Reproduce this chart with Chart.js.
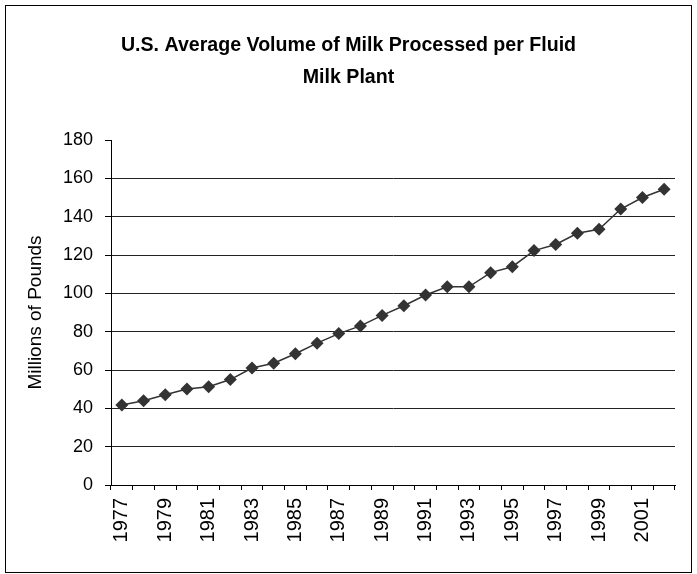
<!DOCTYPE html>
<html>
<head>
<meta charset="utf-8">
<script src="https://cdn.jsdelivr.net/npm/chart.js@4/dist/chart.umd.min.js"></script>
<style>
  html, body { margin: 0; padding: 0; background: #fff; }
  #wrap { width: 697px; height: 574px; position: relative; }
</style>
</head>
<body>
<div id="wrap"><canvas id="c" width="697" height="574"></canvas></div>
<script>
const years = [1977,1978,1979,1980,1981,1982,1983,1984,1985,1986,1987,1988,1989,1990,1991,1992,1993,1994,1995,1996,1997,1998,1999,2000,2001,2002];
const volumes = [41.7,44.0,47.1,50.1,51.3,55.0,61.0,63.5,68.5,74.0,79.0,83.0,88.5,93.5,99.1,103.4,103.4,110.8,113.9,122.3,125.5,131.3,133.4,144.0,150.0,154.3];
const yTicks = [0,20,40,60,80,100,120,140,160,180];
const titleLines = ['U.S. Average Volume of Milk Processed per Fluid', 'Milk Plant'];
const yTitle = 'Millions of Pounds';

const frame = {
  id: 'frame',
  beforeDraw(chart) {
    const ctx = chart.ctx;
    ctx.save();
    ctx.fillStyle = '#fff';
    ctx.fillRect(0, 0, chart.width, chart.height);
    ctx.strokeStyle = '#000';
    ctx.lineWidth = 1;
    ctx.strokeRect(5.5, 5.5, 686, 567);
    ctx.restore();
  }
};

new Chart(document.getElementById('c'), {
  type: 'line',
  data: {
    labels: years.map(String),
    datasets: [{
      data: volumes,
      borderColor: '#333333',
      backgroundColor: '#333333',
      borderWidth: 1.5,
      pointStyle: 'rectRot',
      pointRadius: 6.5,
      pointHoverRadius: 6.5,
      pointBackgroundColor: '#333333',
      pointBorderColor: '#333333',
      pointBorderWidth: 0,
      tension: 0,
      fill: false
    }]
  },
  options: {
    responsive: false,
    animation: false,
    events: [],
    layout: { padding: { left: 22, right: 22, top: 0, bottom: 0 } },
    plugins: {
      legend: { display: false },
      tooltip: { enabled: false },
      title: {
        display: true,
        text: titleLines,
        color: '#000',
        font: { family: 'Liberation Sans, Arial, sans-serif', size: 19.6, weight: 'bold', lineHeight: 32/19.6 },
        padding: { top: 30, bottom: 46 }
      }
    },
    scales: {
      x: {
        type: 'category',
        offset: true,
        afterFit(scale) { scale.height = 89; },
        grid: {
          offset: true,
          drawOnChartArea: false,
          drawTicks: true,
          tickLength: 5,
          color: '#000',
          lineWidth: 1
        },
        border: { display: true, color: '#000', width: 1 },
        ticks: {
          autoSkip: false,
          maxRotation: 90,
          minRotation: 90,
          padding: 8,
          color: '#000',
          font: { family: 'Liberation Sans, Arial, sans-serif', size: 20 },
          callback(value, index) { return index % 2 === 0 ? years[index] : ''; }
        }
      },
      y: {
        min: 0,
        max: 180,
        afterFit(scale) { scale.width = 89; },
        afterBuildTicks(scale) { scale.ticks = yTicks.map(v => ({ value: v })); },
        grid: {
          color(ctx) { return ctx.tick && ctx.tick.value === 180 ? 'rgba(0,0,0,0)' : '#222'; },
          tickColor: '#000',
          lineWidth: 1,
          tickLength: 6
        },
        border: { display: true, color: '#000', width: 1 },
        ticks: {
          padding: 12,
          color: '#000',
          font: { family: 'Liberation Sans, Arial, sans-serif', size: 18 }
        },
        title: {
          display: true,
          text: yTitle,
          color: '#000',
          font: { family: 'Liberation Sans, Arial, sans-serif', size: 19 },
          padding: { top: 2, bottom: 0 }
        }
      }
    }
  },
  plugins: [frame]
});
</script>
</body>
</html>
